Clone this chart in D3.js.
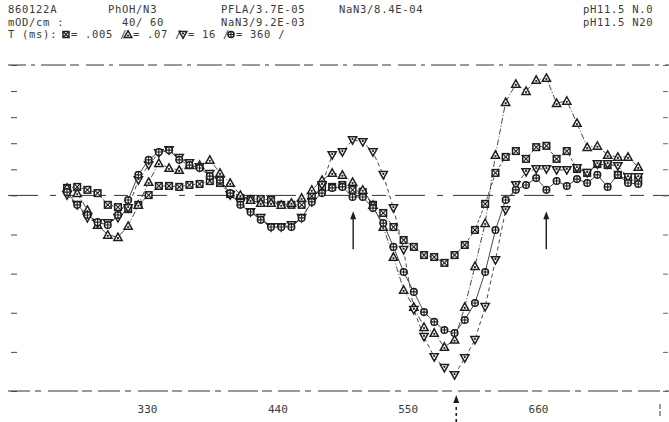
<!DOCTYPE html>
<html><head><meta charset="utf-8">
<script src="https://cdn.jsdelivr.net/npm/d3@7"></script>
<style>
html,body{margin:0;padding:0;background:#fff;}
text{font-family:"DejaVu Sans Mono",monospace;fill:#3a3a3a;}
</style></head><body>
<svg id="chart" width="669" height="422"></svg>
<script>
// ---- data ----
const wavelengths = [262.5,271.1,279.7,288.3,296.9,305.5,314.1,322.7,331.4,340.0,348.6,357.2,365.8,374.4,383.0,391.6,400.2,408.8,417.4,426.0,434.7,443.3,451.9,460.5,469.1,477.7,486.3,494.9,503.5,512.1,520.7,529.4,538.0,546.6,555.2,563.8,572.4,581.0,589.6,598.2,606.8,615.4,624.1,632.7,641.3,649.9,658.5,667.1,675.7,684.3,692.9,701.5,710.1,718.8,727.4,736.0,744.6];
const t005 = [2.3,2.6,1.7,0.7,-2.9,-3.6,-4.2,-2.9,0.1,2.9,2.9,2.6,3.2,3.5,4.4,3.8,0.4,-0.8,-1.1,-1.1,-1.4,-2.9,-2.9,-2.9,-0.2,2.3,2.6,3.2,1.7,1.0,-2.9,-5.4,-9.7,-13.7,-15.8,-18.3,-18.9,-20.7,-18.3,-15.2,-10.6,-2.6,6.9,11.8,13.6,11.2,14.8,15.2,11.2,13.6,8.1,6.9,9.6,9.3,6.3,4.7,4.7];
const t07 = [2.3,0.7,-4.5,-9.1,-12.1,-12.8,-9.4,-2.9,4.1,9.9,8.4,7.8,9.3,9.3,10.9,6.9,3.8,0.1,-1.4,-2.3,-2.3,-2.9,-2.3,-0.8,1.7,4.7,6.9,6.3,4.1,1.7,-2.9,-9.7,-18.9,-29.0,-34.2,-40.4,-42.2,-46.5,-44.3,-34.2,-21.7,-8.5,12.4,28.6,34.2,32.0,35.4,36.0,28.3,29.0,22.2,14.8,15.2,12.4,11.8,11.8,8.7];
const t16 = [0.1,-2.9,-6.9,-8.5,-8.5,-6.9,-3.9,4.7,9.3,13.0,13.9,11.5,9.9,8.7,6.6,4.7,0.1,-2.3,-5.1,-6.9,-9.7,-9.7,-9.1,-6.9,-2.0,3.2,12.4,13.3,17.0,16.4,13.3,6.3,-3.9,-16.7,-35.1,-43.4,-49.6,-52.9,-55.1,-49.9,-44.3,-34.2,-19.8,-4.5,3.2,7.2,8.1,8.1,7.8,7.8,8.4,6.9,9.6,9.6,9.0,5.6,5.6];
const t360 = [1.0,-2.9,-6.0,-8.2,-9.1,-6.0,-1.4,6.3,10.9,13.3,13.9,10.9,9.3,8.4,5.9,4.7,0.7,-2.9,-5.1,-7.5,-9.7,-9.7,-9.7,-6.9,-2.0,0.7,2.3,2.6,-0.5,-0.5,-3.9,-8.5,-15.8,-23.5,-29.6,-35.8,-38.8,-41.3,-42.2,-38.2,-33.0,-23.5,-10.6,-1.4,1.7,3.2,5.3,1.7,4.4,2.9,5.0,3.8,6.3,2.6,6.3,3.8,3.5];
const xTickValues = [330,440,550,660];
const yTickValues = [40,32,24,16,8,0,-12,-24,-36,-48,-60];
const arrowsUp = [504,667];
const arrowBelow = [591];
const edgeMark = [763];
const header1 = ["860122A","PhOH/N3","PFLA/3.7E-05","NaN3/8.4E-04","pH11.5 N.0"];
const header2 = ["mOD/cm :","40/  60","NaN3/9.2E-03","pH11.5 N20"];
const legendTitle = "T (ms):";
const legendLabels = ["= .005 /","= .07 /","= 16 /","= 360 /"];

// ---- drawing ----
const svg = d3.select("#chart");
const x = d3.scaleLinear().domain([330,660]).range([147,538]);
const y = d3.scaleLinear().domain([-60,40]).range([391,65]);
const ink = "#1e1e1e";
const FS = 10.5, LS = 0.7;

function txt(xx, yy, t){
  return svg.append("text").attr("x",xx).attr("y",yy).attr("font-size",FS).attr("letter-spacing",LS).text(t);
}
// header text
const h1x = [8,108,221,339,583], h2x=[8,122,221,583];
header1.forEach((t,i)=>txt(h1x[i],13,t));
header2.forEach((t,i)=>txt(h2x[i],25.5,t));
txt(8,38,legendTitle);

// marker shapes
function marker(g, kind, cx, cy, s){
  const r = s||3.3;
  const sg = g.append("g").attr("transform",`translate(${cx},${cy})`).attr("stroke",ink).attr("stroke-width",1.5).attr("fill","#fff");
  if(kind==="sq"){ sg.append("rect").attr("x",-r).attr("y",-r).attr("width",2*r).attr("height",2*r);
    sg.append("path").attr("d",`M${-r},${-r}L${r},${r}M${r},${-r}L${-r},${r}`).attr("stroke-width",1.1); }
  else if(kind==="up"){ sg.append("path").attr("d",`M0,${-r-0.8}L${r+0.8},${r}L${-r-0.8},${r}Z`);
    sg.append("circle").attr("cy",1).attr("r",1.1).attr("fill",ink).attr("stroke","none"); }
  else if(kind==="dn"){ sg.append("path").attr("d",`M0,${r+0.8}L${r+0.8},${-r}L${-r-0.8},${-r}Z`);
    sg.append("circle").attr("cy",-1).attr("r",1.1).attr("fill",ink).attr("stroke","none"); }
  else { sg.append("circle").attr("r",r);
    sg.append("path").attr("d",`M${-r},0L${r},0M0,${-r}L0,${r}`).attr("stroke-width",1.1); }
}

// legend line
const legX = [62,124,179,227];
const kinds = ["sq","up","dn","ci"];
legendLabels.forEach((t,i)=>{
  marker(svg, kinds[i], legX[i]+4, 34.5, 3);
  txt(legX[i]+9,38,t);
});

// frame lines (dot-matrix style)
function hline(yv, dash){
  svg.append("line").attr("x1",8).attr("x2",669).attr("y1",y(yv)).attr("y2",y(yv))
    .attr("stroke","#333").attr("stroke-width",1).attr("stroke-dasharray",dash);
}
hline(40,"18,5,4,6,25,4,9,7");
hline(0,"30,12,6,10,40,8,14,9");
hline(-60,"22,5,6,7,30,4,10,6");

// axes
const xAxis = d3.axisBottom(x).tickValues(xTickValues).tickSize(0).tickPadding(14).tickFormat(d3.format("d"));
const gx = svg.append("g").attr("transform",`translate(0,${y(-60)})`).call(xAxis);
gx.select(".domain").remove();
gx.selectAll("text").attr("font-size",11).attr("font-family","DejaVu Sans Mono").attr("fill","#555");

const yAxisL = d3.axisLeft(y).tickValues(yTickValues).tickSize(6).tickFormat("");
const gl = svg.append("g").attr("transform","translate(17,0)").call(yAxisL);
gl.select(".domain").remove();
gl.selectAll("text").remove();
gl.selectAll("line").attr("stroke","#444");
const yAxisR = d3.axisRight(y).tickValues(yTickValues).tickSize(5).tickFormat("");
const gr = svg.append("g").attr("transform","translate(663,0)").call(yAxisR);
gr.select(".domain").remove();
gr.selectAll("text").remove();
gr.selectAll("line").attr("stroke","#666");

// series
const series = [
  {vals:t005, kind:"sq", dash:"3,2"},
  {vals:t07, kind:"up", dash:"6,2,1,2"},
  {vals:t16, kind:"dn", dash:"4,3"},
  {vals:t360, kind:"ci", dash:"none"}
];
const line = d3.line().x((d,i)=>x(wavelengths[i])).y(d=>y(d));
series.forEach(s=>{
  svg.append("path").datum(s.vals).attr("d",line).attr("fill","none").attr("stroke","#333").attr("stroke-width",0.9).attr("stroke-dasharray",s.dash);
});
series.forEach(s=>{
  const g = svg.append("g");
  s.vals.forEach((v,i)=>marker(g, s.kind, x(wavelengths[i]), y(v)));
});

// arrows
const ag = svg.append("g");
arrowsUp.forEach(w=>{
  const xx = x(w), y0 = y(-16.5), y1 = y(-5.5);
  ag.append("line").attr("x1",xx).attr("x2",xx).attr("y1",y0).attr("y2",y1+4).attr("stroke",ink).attr("stroke-width",1.4);
  ag.append("path").attr("d",`M${xx},${y1-2}L${xx+3},${y1+6}L${xx-3},${y1+6}Z`).attr("fill",ink);
});
arrowBelow.forEach(w=>{
  const xx = x(w);
  ag.append("line").attr("x1",xx).attr("x2",xx).attr("y1",422).attr("y2",404).attr("stroke",ink).attr("stroke-width",1.6).attr("stroke-dasharray","3,3");
  ag.append("path").attr("d",`M${xx},${395}L${xx+3},${403}L${xx-3},${403}Z`).attr("fill",ink);
});
edgeMark.forEach(w=>{
  const xx = x(w);
  ag.append("line").attr("x1",xx).attr("x2",xx).attr("y1",404).attr("y2",417).attr("stroke","#555").attr("stroke-width",1.2).attr("stroke-dasharray","5,2");
});
</script></body></html>
